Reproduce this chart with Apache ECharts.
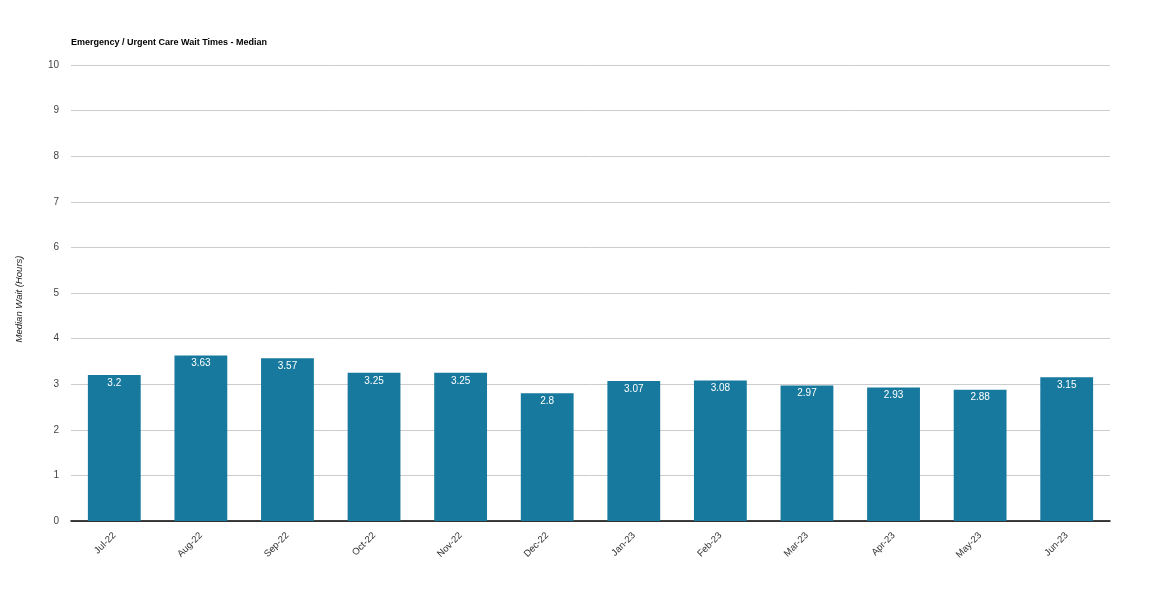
<!DOCTYPE html>
<html><head><meta charset="utf-8">
<script src="https://cdn.jsdelivr.net/npm/echarts@6/dist/echarts.min.js"></script>
<style>html,body{margin:0;padding:0;background:#fff}#c{width:1150px;height:590px}</style>
</head><body><div id="c"></div>
<script>
const categories = ["Jul-22","Aug-22","Sep-22","Oct-22","Nov-22","Dec-22","Jan-23","Feb-23","Mar-23","Apr-23","May-23","Jun-23"];
const medianWait = [3.2,3.63,3.57,3.25,3.25,2.8,3.07,3.08,2.97,2.93,2.88,3.15];
const chartTitle = "Emergency / Urgent Care Wait Times - Median";
const yAxisName = "Median Wait (Hours)";

const FONT = "'Liberation Sans', Arial";
const chart = echarts.init(document.getElementById('c'), null, {renderer:'canvas'});
chart.setOption({
  animation:false,
  backgroundColor:'#fff',
  title:{text:chartTitle,left:66,top:33,textStyle:{fontFamily:FONT,fontSize:9,fontWeight:'bold',color:'#000'}},
  grid:{left:71,right:40,top:65,bottom:69},
  xAxis:{type:'category',data:categories,
    axisLine:{lineStyle:{color:'#000',width:1.5}},
    axisTick:{show:false},
    axisLabel:{rotate:45,fontFamily:FONT,fontSize:9.5,color:'#333',margin:13}},
  yAxis:{type:'value',min:0,max:10,interval:1,
    name:yAxisName,nameLocation:'middle',nameGap:47,
    nameTextStyle:{fontFamily:FONT,fontSize:9.5,fontStyle:'italic',color:'#222',padding:[0,12,0,0]},
    axisLine:{show:false},axisTick:{show:false},
    axisLabel:{fontFamily:FONT,fontSize:10,color:'#444',margin:12},
    splitLine:{lineStyle:{color:'#ccc',width:1}}},
  series:[{type:'bar',data:medianWait,barWidth:'61%',
    itemStyle:{color:'#17799e'},
    label:{show:true,position:'insideTop',distance:3,color:'#fff',fontFamily:FONT,fontSize:10}}]
});
</script></body></html>
